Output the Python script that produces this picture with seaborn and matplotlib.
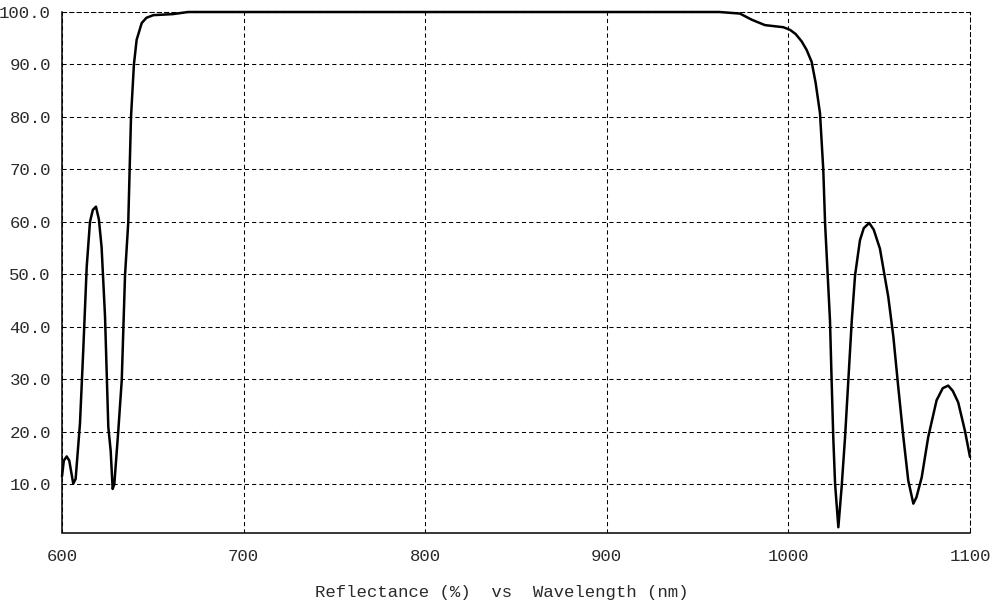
import matplotlib
matplotlib.use("Agg")
import matplotlib.pyplot as plt
import pandas as pd
import seaborn as sns

# values
wavelength = [
    600, 601, 602.6, 604, 606.2, 607.5, 609.9, 611.7, 613.6, 615.4, 617, 618.7,
    620.3, 621.8, 623.7, 625.5, 626.8, 627.9, 628.8, 631, 632.9, 634.7, 636.5,
    637.4, 638.0, 639.6, 641.1, 643.9, 646.5, 650.3, 661.1, 669.4, 962, 973.3,
    980, 987.1, 997.2, 1000.9, 1004, 1007.3, 1010, 1012.8, 1015, 1017.4, 1019.2,
    1020.2, 1022.9, 1023.8, 1024.7, 1025.7, 1027.5, 1029.3, 1031.2, 1033, 1034.9,
    1036.7, 1039.4, 1041.5, 1044.5, 1047, 1050.4, 1055, 1057.8, 1060.5, 1063.3,
    1066, 1068.8, 1070.5, 1073.4, 1077, 1081.6, 1085, 1088, 1090.5, 1093.5,
    1097.2, 1100,
]
reflectance = [
    11.5, 14.5, 15.3, 14.5, 10.1, 11, 21.6, 35.5, 51.4, 60, 62.3, 62.9,
    60.5, 55.2, 41.9, 20.9, 16.4, 9.1, 10, 20.2, 29.8, 49.8, 60,
    72, 80, 90, 94.7, 97.9, 98.9, 99.4, 99.6, 100, 100, 99.7,
    98.5, 97.5, 97.1, 96.6, 95.8, 94.4, 92.8, 90.5, 86.5, 80.7, 70,
    59.7, 41.2, 29.8, 19, 10.1, 1.8, 9.4, 19, 29.8, 41.2,
    49.8, 56.5, 58.8, 59.8, 58.5, 54.9, 45.7, 38.1, 28.5, 19,
    10.7, 6.3, 7.5, 11.3, 19, 26, 28.3, 28.8, 27.8, 25.6,
    20.2, 15.2,
]
x_ticks = [600, 700, 800, 900, 1000, 1100]
y_ticks = [10, 20, 30, 40, 50, 60, 70, 80, 90, 100]

df = pd.DataFrame({"wavelength": wavelength, "reflectance": reflectance})

sns.set_style("white")
plt.rcParams["font.family"] = ["Liberation Mono", "DejaVu Sans Mono"]

fig = plt.figure(figsize=(10.02, 6.09), dpi=100)
ax = fig.add_axes([62 / 1002, 1 - 532.5 / 609, 908 / 1002, 520.5 / 609])

sns.lineplot(data=df, x="wavelength", y="reflectance", color="black",
             linewidth=1.8, estimator=None, sort=False, ax=ax, clip_on=False)

ax.set_xlim(600, 1100)
ax.set_ylim(0.8, 100)
ax.set_xticks(x_ticks)
ax.set_xticklabels([str(t) for t in x_ticks])
ax.set_yticks(y_ticks)
ax.set_yticklabels([f"{t:.1f}" for t in y_ticks])

ax.grid(True, color="black", linestyle=(0, (4, 3)), linewidth=0.75)
for side in ["top", "right"]:
    ax.spines[side].set_linestyle((0, (4, 3)))
    ax.spines[side].set_linewidth(0.75)
    ax.spines[side].set_color("black")
for side in ["left", "bottom"]:
    ax.spines[side].set_linewidth(1.1)
    ax.spines[side].set_color("black")

ax.tick_params(axis="both", length=3, width=1, color="black",
               labelsize=12.5, labelcolor="#2a2a2a")
ax.tick_params(axis="y", pad=5)
ax.tick_params(axis="x", pad=9)
ax.set_xlabel("")
ax.set_ylabel("")

fig.text(502 / 1002, 1 - 593 / 609, "Reflectance (%)  vs  Wavelength (nm)",
         ha="center", va="center", fontsize=12.5, color="#2a2a2a")

fig.savefig("out.png", dpi=100)
